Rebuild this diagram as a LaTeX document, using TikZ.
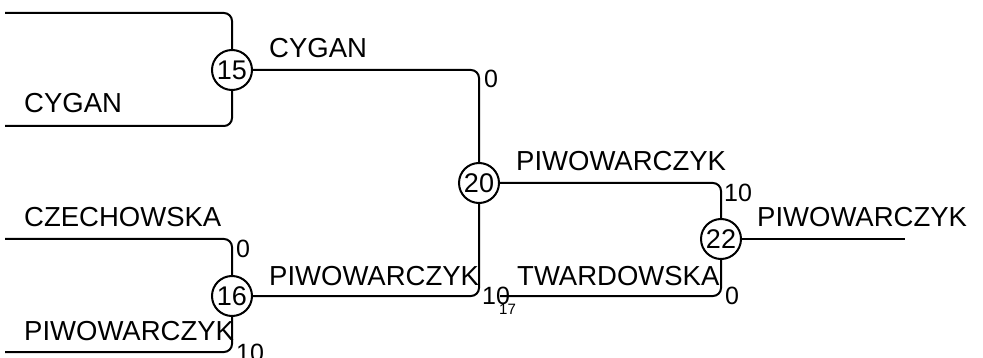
\documentclass[tikz,border=0pt]{standalone}
\usepackage{fontspec}
\setmainfont{Liberation Sans}
\begin{document}
\begin{tikzpicture}[x=1pt,y=-1pt,
  wire/.style={line width=2pt,rounded corners=8pt},
  team/.style={draw,circle,line width=2pt,minimum size=40pt,inner sep=0pt,font=\fontsize{27}{27}\selectfont},
  plname/.style={anchor=base west,inner sep=0pt,font=\fontsize{27.5}{27.5}\selectfont},
  plscore/.style={anchor=base west,inner sep=0pt,font=\fontsize{25}{25}\selectfont},
  smalllbl/.style={anchor=base west,inner sep=0pt,font=\fontsize{15}{15}\selectfont}]
\useasboundingbox (0,0) rectangle (983,358);
% match nodes
\node[team] (n15) at (232,70) {15};
\node[team] (n20) at (479,183) {20};
\node[team] (n22) at (721,239) {22};
\node[team] (n16) at (232,296) {16};
% free ends
\coordinate (s1) at (5,13);
\coordinate (s2) at (5,126);
\coordinate (s3) at (5,239);
\coordinate (s4) at (5,352);
\coordinate (c17) at (500,296);
\coordinate (e) at (905,239);
% connectors
\draw[wire] (s1) -| (n15);
\draw[wire] (s2) -| (n15);
\draw[wire] (s3) -| (n16);
\draw[wire] (s4) -| (n16);
\draw[wire] (n15) -| (n20);
\draw[wire] (n16) -| (n20);
\draw[wire] (n20) -| (n22);
\draw[wire] (c17) -| (n22);
\draw[wire] (n22) -- (e);
% names
\node[plname] (l1) at (24,113) {CYGAN};
\node[plname] (l2) at (269,58) {CYGAN};
\node[plname] (l3) at (24,227) {CZECHOWSKA};
\node[plname] (l4) at (24,340) {PIWOWARCZYK};
\node[plname] (l5) at (269,285) {PIWOWARCZYK};
\node[plname] (l6) at (516,171) {PIWOWARCZYK};
\node[plname] (l7) at (517,285) {TWARDOWSKA};
\node[plname] (l8) at (757,227) {PIWOWARCZYK};
% scores
\node[plscore] (p1) at (484,88) {0};
\node[plscore] (p2) at (236,258) {0};
\node[plscore] (p3) at (236,361) {10};
\node[plscore] (p4) at (482,305) {10};
\node[plscore] (p5) at (724,202) {10};
\node[plscore] (p6) at (725,305) {0};
\node[smalllbl] (m17) at (499,314) {17};
\end{tikzpicture}
\end{document}
